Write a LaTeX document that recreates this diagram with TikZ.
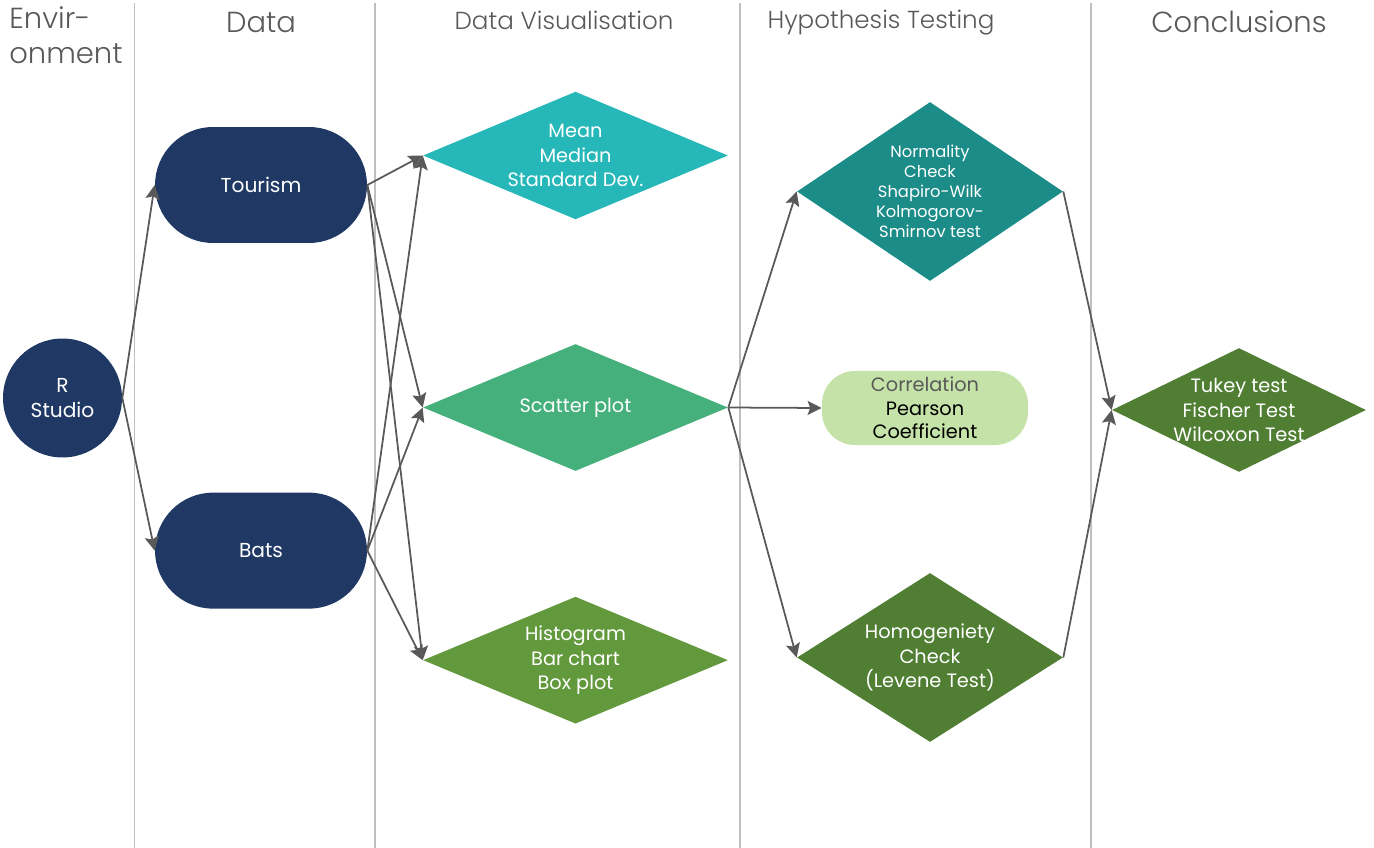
\documentclass[tikz,border=0pt]{standalone}
\usepackage{fontspec}
\setmainfont{Poppins}
\newfontfamily\headfont{Poppins}[UprightFont=* Light]
\usepackage{xcolor}
\usepackage{tikz}
\usetikzlibrary{shapes.geometric, arrows.meta}
\usetikzlibrary{positioning}

\definecolor{navy}{HTML}{203864}
\definecolor{tealA}{HTML}{26B7B9}
\definecolor{tealB}{HTML}{1C8C89}
\definecolor{greenA}{HTML}{45B07B}
\definecolor{greenB}{HTML}{63993D}
\definecolor{greenC}{HTML}{507E33}
\definecolor{palegreen}{HTML}{C5E3A8}
\definecolor{headgray}{HTML}{595959}
\definecolor{lanegray}{HTML}{BFBFBF}

\tikzstyle{lane} = [draw=lanegray, line width=1pt]
\tikzstyle{lanehead} = [text=headgray, inner sep=0pt, font=\headfont\fontsize{16.5}{20}\selectfont]
\tikzstyle{narrowhead} = [lanehead, font=\headfont\fontsize{14}{17}\selectfont]
\tikzstyle{pill} = [rectangle, rounded corners=1.16cm, minimum width=4.24cm,
minimum height=2.32cm, fill=navy, text=white, font=\fontsize{11.5}{14}\selectfont]
\tikzstyle{decision} = [diamond, inner sep=-10pt, align=center, text=white,
font=\fontsize{11}{13.8}\selectfont]
\tikzstyle{arrow} = [line width=1pt, draw=headgray, -{Stealth[length=8pt,width=8pt,inset=1.5pt]}, fill=headgray]

\begin{document}
\begin{tikzpicture}[x=0.02cm, y=-0.02cm]
    \useasboundingbox (0,0) rectangle (1374,848);
    % lanes
    \draw[lane] (134.5,3) -- (134.5,848);
    \draw[lane] (375,3) -- (375,848);
    \draw[lane] (740,3) -- (740,848);
    \draw[lane] (1091,3) -- (1091,848);

    \node (hEnv) [lanehead, anchor=north west, align=left] at (9,6) {Envir-\\onment};
    \node (hData) [lanehead] at (261,22) {Data};
    \node (hVis) [narrowhead] at (564,20) {Data Visualisation};
    \node (hHyp) [narrowhead] at (881,22.5) {Hypothesis Testing};
    \node (hCon) [lanehead] at (1239,22) {Conclusions};

    \node (rstudio) [circle, fill=navy, minimum size=2.38cm, text=white, align=center,
      font=\fontsize{11.5}{14.5}\selectfont] at (62.5,398) {R\\Studio};
    \node (tourism) [pill] at (261,185) {Tourism};
    \node (bats) [pill, below=4.98cm of tourism] {Bats};

    \node (mean) [decision, fill=tealA, minimum width=6.1cm, minimum height=2.54cm]
      at (575.5,155.5) {Mean\\Median\\Standard Dev.};
    \node (scatter) [decision, fill=greenA, minimum width=6.1cm, minimum height=2.54cm,
      below=2.48cm of mean] {Scatter plot};
    \node (hist) [decision, fill=greenB, minimum width=6.1cm, minimum height=2.54cm,
      below=2.5cm of scatter] {Histogram\\Bar chart\\Box plot};

    \node (normal) [decision, fill=tealB, minimum width=5.32cm, minimum height=3.58cm,
      font=\fontsize{9.3}{11.3}\selectfont] at (930,191.5)
      {Normality\\Check\\Shapiro-Wilk\\Kolmogorov-\\Smirnov test};
    \node (corr) [rectangle, rounded corners=0.66cm, minimum width=4.12cm, minimum height=1.32cm,
      fill=palegreen, align=center, font=\fontsize{11}{13.5}\selectfont] at (925,408)
      {\textcolor{headgray}{Correlation}\\Pearson\\Coefficient};
    \node (homog) [decision, fill=greenC, minimum width=5.32cm, minimum height=3.38cm]
      at (930,657.5) {Homogeniety\\Check\\(Levene Test)};

    \node (tukey) [decision, fill=greenC, minimum width=5.08cm, minimum height=2.4cm]
      at (1239,410) {Tukey test\\Fischer Test\\Wilcoxon Test};

    \draw[arrow] (rstudio.east) -- (tourism.west);
    \draw[arrow] (rstudio.east) -- (bats.west);
    \draw[arrow] (tourism.east) -- (mean.west);
    \draw[arrow] (tourism.east) -- (scatter.west);
    \draw[arrow] (tourism.east) -- (hist.west);
    \draw[arrow] (bats.east) -- (mean.west);
    \draw[arrow] (bats.east) -- (scatter.west);
    \draw[arrow] (bats.east) -- (hist.west);
    \draw[arrow] (scatter.east) -- (normal.west);
    \draw[arrow] (scatter.east) -- (corr.west);
    \draw[arrow] (scatter.east) -- (homog.west);
    \draw[arrow] (normal.east) -- (tukey.west);
    \draw[arrow] (homog.east) -- (tukey.west);
  \end{tikzpicture}
\end{document}
